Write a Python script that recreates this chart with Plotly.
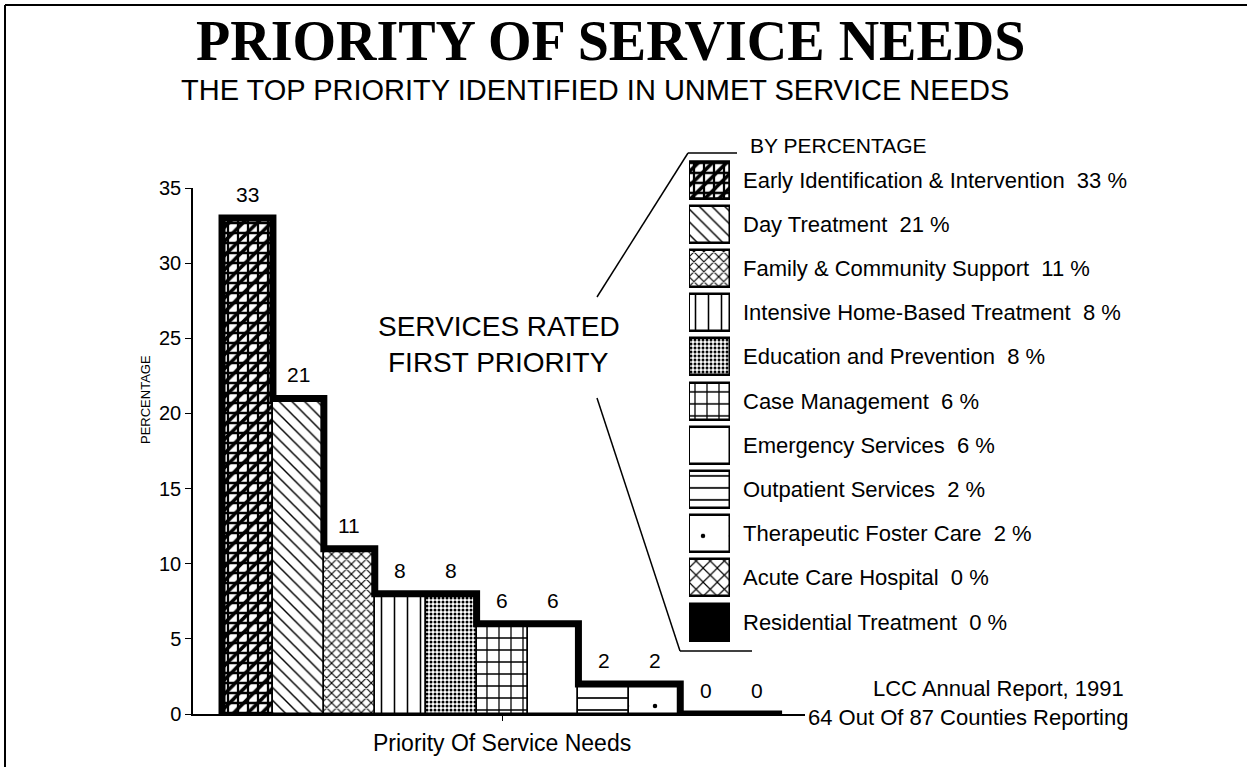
import plotly.graph_objects as go

# ---------------- data ----------------
categories = [
    "Early Identification & Intervention",
    "Day Treatment",
    "Family & Community Support",
    "Intensive Home-Based Treatment",
    "Education and Prevention",
    "Case Management",
    "Emergency Services",
    "Outpatient Services",
    "Therapeutic Foster Care",
    "Acute Care Hospital",
    "Residential Treatment",
]
values = [33, 21, 11, 8, 8, 6, 6, 2, 2, 0, 0]
y_ticks = [0, 5, 10, 15, 20, 25, 30, 35]

# ---------------- styles ----------------
W, H = 1247, 767
SANS = "Liberation Sans, Arial, Helvetica, sans-serif"
SERIF = "Liberation Serif, Times New Roman, serif"


def fx(px):
    return px / W


def fy(py):
    return 1 - py / H


pat_shape = ["+", "\\", "x", "|", ".", "+", "", "-", ".", "x", ""]
pat_size = [10, 9, 7, 13, 4, 12, 10, 12, 28, 10, 10]
pat_solid = [0.4, 0.16, 0.3, 0.12, 0.45, 0.2, 0.2, 0.14, 0.02, 0.22, 0.2]
bar_color = ["white"] * 10 + ["black"]

fig = go.Figure()


def pattern_for(i):
    return dict(shape=pat_shape[i], size=pat_size[i], solidity=pat_solid[i],
                fgcolor="black", bgcolor=bar_color[i], fillmode="replace", fgopacity=1)


overlay_pat = dict(shape="/", size=10, solidity=0.35, fgcolor="black",
                   bgcolor="rgba(0,0,0,0)", fillmode="overlay", fgopacity=1)

# main bars, one trace per category
for i, (c, v) in enumerate(zip(categories, values)):
    fig.add_trace(go.Bar(
        x=[i], y=[v], width=1, name=c,
        marker=dict(color=bar_color[i], line=dict(color="black", width=1.5), pattern=pattern_for(i)),
        showlegend=False, hoverinfo="skip",
    ))
# extra diagonal texture on the first bar (grid + triangles look)
fig.add_trace(go.Bar(
    x=[0], y=[values[0]], width=1,
    marker=dict(color="rgba(0,0,0,0)", line=dict(color="black", width=1.5), pattern=overlay_pat),
    showlegend=False, hoverinfo="skip",
))

# thick skyline outline
sx = [-0.5] + [i - 0.5 for i in range(len(values))] + [len(values) - 0.5]
sy = [0] + values + [values[-1]]
fig.add_trace(go.Scatter(
    x=sx, y=sy, mode="lines", line=dict(color="black", width=7, shape="hv"),
    cliponaxis=False, showlegend=False, hoverinfo="skip",
))

# legend swatches (second axes)
for i, c in enumerate(categories):
    fig.add_trace(go.Bar(
        x=[1], y=[i], orientation="h", width=0.84, xaxis="x2", yaxis="y2", name=c,
        marker=dict(color=bar_color[i], line=dict(color="black", width=2.5), pattern=pattern_for(i)),
        showlegend=False, hoverinfo="skip",
    ))
fig.add_trace(go.Bar(
    x=[1], y=[0], orientation="h", width=0.84, xaxis="x2", yaxis="y2",
    marker=dict(color="rgba(0,0,0,0)", line=dict(color="black", width=2.5), pattern=overlay_pat),
    showlegend=False, hoverinfo="skip",
))

annotations = []
# value labels
for i, v in enumerate(values):
    annotations.append(dict(x=i, y=v, xref="x", yref="y", text=str(v), showarrow=False,
                            yanchor="bottom", yshift=10,
                            font=dict(family=SANS, size=21, color="black")))
# legend labels
row_top, row_step = 180, 44.2
for i, (c, v) in enumerate(zip(categories, values)):
    annotations.append(dict(x=fx(741), y=i, xref="paper", yref="y2",
                            text=f"{c}\u00a0\u00a0{v}\u00a0%", showarrow=False,
                            xanchor="left", yanchor="middle",
                            font=dict(family=SANS, size=22, color="black")))

texts = [
    ("PRIORITY OF SERVICE NEEDS", 610, 41, "center", dict(family=SERIF, size=56, color="black", weight="bold")),
    ("THE TOP PRIORITY IDENTIFIED IN UNMET SERVICE NEEDS", 595, 90, "center", dict(family=SANS, size=29, color="black")),
    ("BY PERCENTAGE", 838, 146, "center", dict(family=SANS, size=21, color="black")),
    ("SERVICES RATED", 499, 326, "center", dict(family=SANS, size=28, color="black")),
    ("FIRST PRIORITY", 498, 362, "center", dict(family=SANS, size=28, color="black")),
    ("LCC Annual Report, 1991", 1126, 688, "right", dict(family=SANS, size=22, color="black")),
    ("64 Out Of 87 Counties Reporting", 806, 717, "left", dict(family=SANS, size=22, color="black")),
    ("Priority Of Service Needs", 502, 743, "center", dict(family=SANS, size=23, color="black")),
]
for t, px, py, anc, f in texts:
    annotations.append(dict(x=fx(px), y=fy(py), xref="paper", yref="paper", text=t,
                            showarrow=False, xanchor=anc, yanchor="middle", font=f))
annotations.append(dict(x=fx(145), y=fy(400), xref="paper", yref="paper", text="PERCENTAGE",
                        showarrow=False, textangle=-90, xanchor="center", yanchor="middle",
                        font=dict(family=SANS, size=13, color="black")))

shapes = []


def seg(x0, y0, x1, y1, w=1.5):
    shapes.append(dict(type="line", xref="paper", yref="paper",
                       x0=fx(x0), y0=fy(y0), x1=fx(x1), y1=fy(y1),
                       line=dict(color="black", width=w)))


# callout lines
seg(688, 153, 737, 153)
seg(688, 153, 597, 297)
seg(597, 398, 680, 651)
seg(680, 651, 752, 651)
# frame
seg(5, 5, 1247, 5, 2)
seg(5, 5, 5, 767, 2)

fig.update_layout(
    template="none",
    width=W, height=H, margin=dict(l=0, r=0, t=0, b=0, pad=0, autoexpand=False),
    paper_bgcolor="white", plot_bgcolor="white",
    barmode="overlay", bargap=0, showlegend=False,
    xaxis=dict(domain=[fx(193), fx(805)], range=[-1.07, 10.95], showgrid=False, zeroline=False,
               automargin=False,
               showline=True, linecolor="black", linewidth=1.5,
               tickvals=[5], ticks="outside", ticklen=5, tickcolor="black",
               showticklabels=False, fixedrange=True),
    yaxis=dict(domain=[fy(714), fy(188)], range=[0, 35], showgrid=False, zeroline=False,
               automargin=False,
               showline=True, linecolor="black", linewidth=1.5,
               tickvals=y_ticks, ticks="outside", ticklen=6, tickcolor="black",
               tickfont=dict(family=SANS, size=20, color="black"), fixedrange=True),
    xaxis2=dict(domain=[fx(689), fx(730)], range=[0, 1], visible=False, anchor="y2",
                automargin=False, fixedrange=True),
    yaxis2=dict(domain=[fy(row_top + 10 * row_step + row_step / 2), fy(row_top - row_step / 2)],
                range=[10.5, -0.5], visible=False, anchor="x2", automargin=False, fixedrange=True),
    annotations=annotations, shapes=shapes,
)

fig.write_html("out.html")
